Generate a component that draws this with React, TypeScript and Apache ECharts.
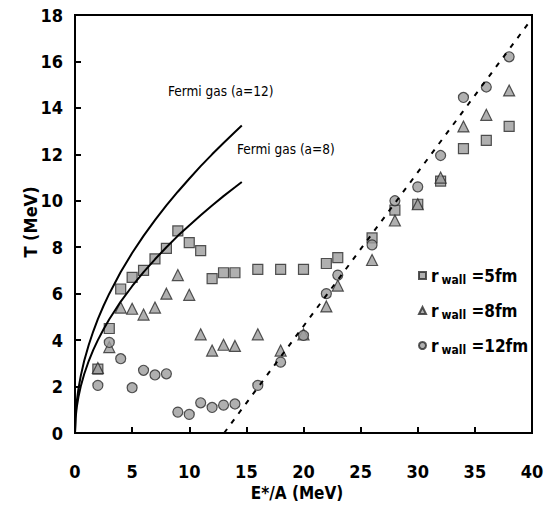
import React, { useEffect, useRef } from "react";
import * as echarts from "echarts";

const FONT = "'Liberation Sans Narrow', 'DejaVu Sans Condensed', 'Liberation Sans', sans-serif";

// Fermi gas curves
const fermiX = [0, 0.05, 0.15, 0.3, 0.5, 0.8, 1.2, 1.6, 2, 2.5, 3, 4, 5, 6, 7, 8, 9, 10, 11, 12, 13, 14, 14.6];
const fermi12 = [0, 0.77, 1.34, 1.9, 2.45, 3.1, 3.79, 4.38, 4.9, 5.48, 6.0, 6.93, 7.75, 8.49, 9.17, 9.8, 10.39, 10.95, 11.49, 12.0, 12.49, 12.96, 13.24];
const fermi8 = [0, 0.63, 1.1, 1.55, 2.0, 2.53, 3.1, 3.58, 4.0, 4.47, 4.9, 5.66, 6.32, 6.93, 7.48, 8.0, 8.49, 8.94, 9.38, 9.8, 10.2, 10.58, 10.81];

// dashed line end points
const dashX = [13.05, 40];
const dashY = [0, 17.85];

// r_wall = 5 fm (squares)
const sqX = [2, 3, 4, 5, 6, 7, 8, 9, 10, 11, 12, 13, 14, 16, 18, 20, 22, 23, 26, 28, 30, 32, 34, 36, 38];
const sqY = [2.75, 4.5, 6.2, 6.7, 7.0, 7.5, 7.95, 8.7, 8.2, 7.85, 6.65, 6.9, 6.9, 7.05, 7.05, 7.05, 7.3, 7.55, 8.4, 9.6, 9.85, 10.85, 12.25, 12.6, 13.2];

// r_wall = 8 fm (triangles)
const triX = [2, 3, 4, 5, 6, 7, 8, 9, 10, 11, 12, 13, 14, 16, 18, 20, 22, 23, 26, 28, 30, 32, 34, 36, 38];
const triY = [2.8, 3.7, 5.4, 5.35, 5.1, 5.4, 6.0, 6.8, 5.95, 4.25, 3.55, 3.8, 3.75, 4.25, 3.55, 4.25, 5.45, 6.35, 7.45, 9.15, 9.85, 11.0, 13.2, 13.7, 14.75];

// r_wall = 12 fm (circles)
const ciX = [2, 3, 4, 5, 6, 7, 8, 9, 10, 11, 12, 13, 14, 16, 18, 20, 22, 23, 26, 28, 30, 32, 34, 36, 38];
const ciY = [2.05, 3.9, 3.2, 1.95, 2.7, 2.5, 2.55, 0.9, 0.8, 1.3, 1.1, 1.2, 1.25, 2.05, 3.05, 4.2, 6.0, 6.8, 8.1, 10.0, 10.6, 11.95, 14.45, 14.9, 16.2];

const xTicks = { min: 0, max: 40, interval: 5 };
const yTicks = { min: 0, max: 18, interval: 2 };

const seriesNames = ["r5", "r8", "r12"];
const legendLabels: Record<string, string> = { r5: " =5fm", r8: " =8fm", r12: " =12fm" };

const zip = (xs: number[], ys: number[]) => xs.map((x, i) => [x, ys[i]]);

export default function App() {
  const ref = useRef<HTMLDivElement>(null);
  useEffect(() => {
    if (!ref.current) return;
    const chart = echarts.init(ref.current, null, { renderer: "svg" });
    const markerStyle = { color: "#9c9c9c", borderColor: "#2a2a2a", borderWidth: 1.2 };
    chart.setOption({
      animation: false,
      backgroundColor: "#fff",
      grid: { left: 75, top: 15, right: 20, bottom: 73, show: true, borderColor: "#000", borderWidth: 2 },
      xAxis: {
        type: "value",
        ...xTicks,
        axisLine: { lineStyle: { color: "#000", width: 2 } },
        axisTick: { inside: true, length: 6, lineStyle: { color: "#000", width: 2 } },
        axisLabel: { margin: 29, fontFamily: FONT, fontWeight: "bold", fontSize: 18, color: "#000" },
        splitLine: { show: false },
      },
      yAxis: {
        type: "value",
        ...yTicks,
        axisLine: { lineStyle: { color: "#000", width: 2 } },
        axisTick: { inside: true, length: 6, lineStyle: { color: "#000", width: 2 } },
        axisLabel: { margin: 12, fontFamily: FONT, fontWeight: "bold", fontSize: 18, color: "#000" },
        splitLine: { show: false },
      },
      legend: {
        data: seriesNames,
        orient: "vertical",
        left: 413,
        top: 260,
        itemWidth: 7,
        itemHeight: 7,
        itemGap: 14,
        formatter: (name: string) => `{r|r}{s|wall}{t|${legendLabels[name]}}`,
        textStyle: {
          rich: {
            r: { fontFamily: FONT, fontWeight: "bold", fontSize: 17, color: "#000", lineHeight: 22 },
            s: { fontFamily: FONT, fontWeight: "bold", fontSize: 12, color: "#000", padding: [9, 0, 0, 3], lineHeight: 22 },
            t: { fontFamily: FONT, fontWeight: "bold", fontSize: 17, color: "#000", lineHeight: 22 },
          },
        },
      },
      graphic: [
        { type: "text", left: 168, top: 84, style: { text: "Fermi gas (a=12)", fontFamily: FONT, fontSize: 13.5, fill: "#000" } },
        { type: "text", left: 237, top: 142, style: { text: "Fermi gas (a=8)", fontFamily: FONT, fontSize: 13.5, fill: "#000" } },
        {
          type: "text", x: 30, y: 222, rotation: Math.PI / 2,
          style: { text: "T (MeV)", fontFamily: FONT, fontWeight: "bold", fontSize: 18, fill: "#000", align: "center", verticalAlign: "middle" },
        },
        {
          type: "text", x: 297, y: 493,
          style: { text: "E*/A (MeV)", fontFamily: FONT, fontWeight: "bold", fontSize: 17, fill: "#000", align: "center", verticalAlign: "middle" },
        },
      ],
      series: [
        { type: "line", data: zip(fermiX, fermi12), symbol: "none", lineStyle: { color: "#000", width: 2 }, silent: true },
        { type: "line", data: zip(fermiX, fermi8), symbol: "none", lineStyle: { color: "#000", width: 2 }, silent: true },
        { type: "line", data: zip(dashX, dashY), symbol: "none", lineStyle: { color: "#000", width: 2, type: [5, 7] }, silent: true },
        { name: "r5", type: "scatter", symbol: "rect", symbolSize: 10, data: zip(sqX, sqY), itemStyle: markerStyle },
        { name: "r8", type: "scatter", symbol: "triangle", symbolSize: 11, data: zip(triX, triY), itemStyle: markerStyle },
        { name: "r12", type: "scatter", symbol: "circle", symbolSize: 10, data: zip(ciX, ciY), itemStyle: markerStyle },
      ],
    });
    return () => chart.dispose();
  }, []);
  return <div ref={ref} style={{ position: "fixed", left: 0, top: 0, width: 552, height: 506 }} />;
}
